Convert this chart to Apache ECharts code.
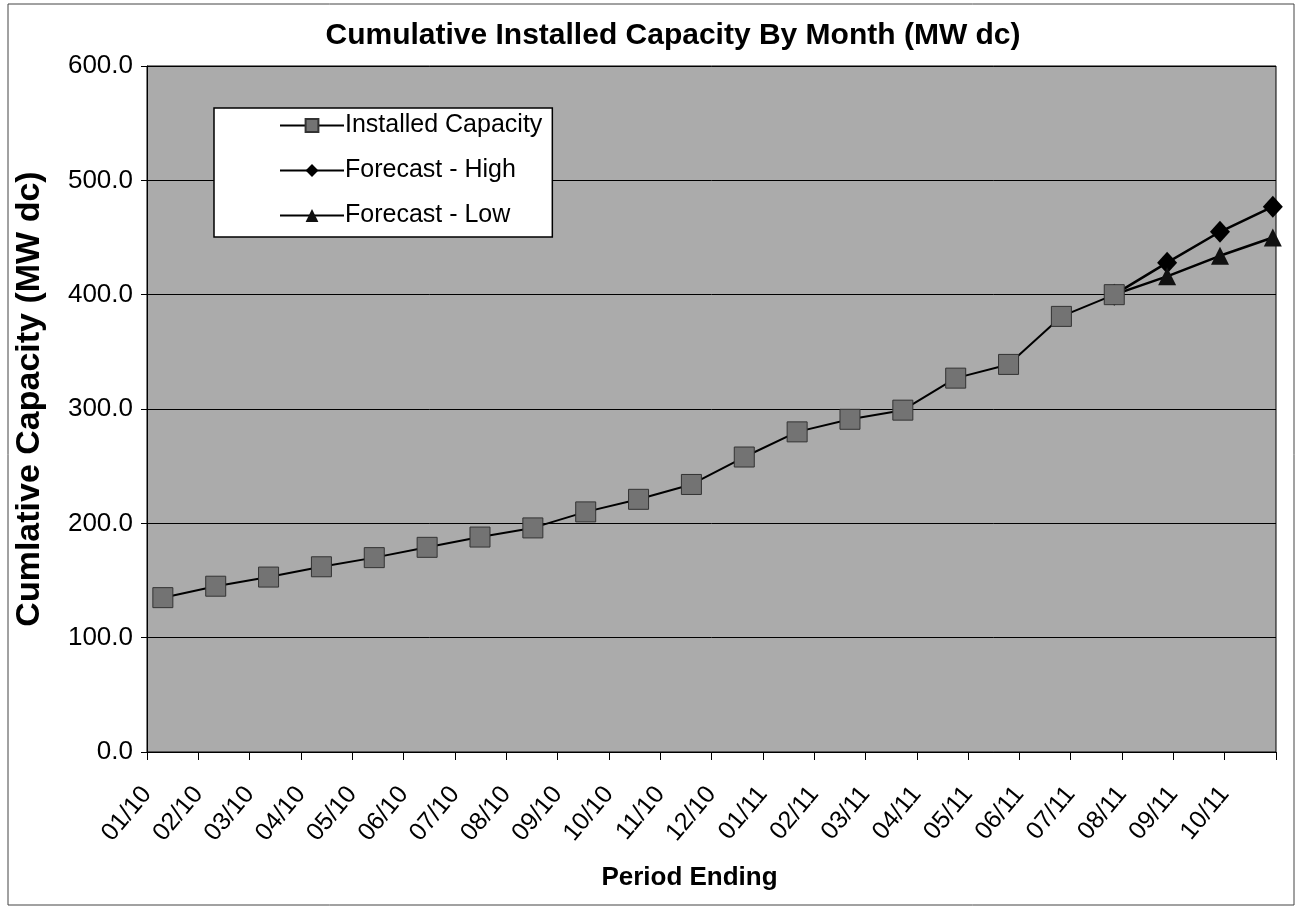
<!DOCTYPE html>
<html><head><meta charset="utf-8">
<script src="https://cdn.jsdelivr.net/npm/echarts@6/dist/echarts.min.js"></script>
<style>html,body{margin:0;padding:0;background:#fff;}#c{width:1298px;height:911px;}</style>
</head><body><div id="c"></div>
<script>
const categories = ['01/10','02/10','03/10','04/10','05/10','06/10','07/10','08/10','09/10','10/10','11/10','12/10','01/11','02/11','03/11','04/11','05/11','06/11','07/11','08/11','09/11','10/11'];
const installed = [135,145,153,162,170,179,188,196,210,221,234,258,280,291,299,327,339,381,400];
const forecastHigh = [null,null,null,null,null,null,null,null,null,null,null,null,null,null,null,null,null,null,400,428,455,477];
const forecastLow  = [null,null,null,null,null,null,null,null,null,null,null,null,null,null,null,null,null,null,400,416,434,450];

const toPairs = arr => arr.map((v, i) => [i, v]).filter(p => p[1] !== null);

const font = '"Liberation Sans", Arial, sans-serif';
const chart = echarts.init(document.getElementById('c'));
chart.setOption({
  animation: false,
  backgroundColor: '#fff',
  title: {
    text: 'Cumulative Installed Capacity By Month (MW dc)',
    left: 668, top: 16, textAlign: 'center',
    textStyle: {fontFamily: font, fontSize: 30, fontWeight: 'bold', color: '#000'}
  },
  graphic: [{type: 'rect', shape: {x: 8, y: 4, width: 1286, height: 901}, style: {fill: 'none', stroke: '#444', lineWidth: 1}, silent: true}],
  legend: {
    orient: 'vertical', left: 214, top: 108,
    backgroundColor: '#fff', borderColor: '#000', borderWidth: 1.5,
    padding: [5, 10, 9, 65], itemGap: 20, itemWidth: 64, itemHeight: 16,
    textStyle: {fontFamily: font, fontSize: 25, color: '#000', padding: [0,0,0,-4]},
    data: ['Installed Capacity', 'Forecast - High', 'Forecast - Low']
  },
  grid: {left: 147, right: 22, top: 66, bottom: 159, show: true, backgroundColor: '#ababab', borderColor: '#000', borderWidth: 1},
  xAxis: [{
    type: 'category', data: categories.concat(['']), boundaryGap: false,
    name: 'Period Ending', nameLocation: 'middle', nameGap: 113,
    nameTextStyle: {fontFamily: font, fontSize: 26, fontWeight: 'bold', color: '#000', padding: [0, 44, 0, 0]},
    axisLine: {lineStyle: {color: '#000', width: 1}},
    axisTick: {show: true, length: 8, lineStyle: {color: '#000'}},
    axisLabel: {rotate: 50, interval: 0, margin: 38, fontFamily: font, fontSize: 25, color: '#000'},
    splitLine: {show: false}
  }, {
    type: 'value', min: -0.3, max: 21.06, show: false, position: 'bottom'
  }],
  yAxis: {
    type: 'value', min: 0, max: 600, interval: 100,
    name: 'Cumlative Capacity (MW dc)', nameLocation: 'middle', nameGap: 100, nameRotate: 90,
    nameTextStyle: {fontFamily: font, fontSize: 34, fontWeight: 'bold', color: '#000', padding: [0, 0, 0, 20]},
    axisLine: {show: true, onZero: false, lineStyle: {color: '#000', width: 1}},
    axisTick: {show: true, length: 6, lineStyle: {color: '#000'}},
    axisLabel: {margin: 14, fontFamily: font, fontSize: 26, color: '#000', formatter: v => v.toFixed(1)},
    splitLine: {show: true, lineStyle: {color: '#000', width: 1}}
  },
  series: [
    {name: 'Installed Capacity', type: 'line', xAxisIndex: 1, data: toPairs(installed), symbol: 'rect', symbolSize: 20,
     lineStyle: {color: '#000', width: 2}, itemStyle: {color: '#737373', borderColor: '#333', borderWidth: 1}, z: 3},
    {name: 'Forecast - High', type: 'line', xAxisIndex: 1, data: toPairs(forecastHigh), symbol: 'diamond', symbolSize: [20, 22],
     lineStyle: {color: '#000', width: 2.5}, itemStyle: {color: '#000'}, z: 2},
    {name: 'Forecast - Low', type: 'line', xAxisIndex: 1, data: toPairs(forecastLow), symbol: 'triangle', symbolSize: 18,
     lineStyle: {color: '#000', width: 2.5}, itemStyle: {color: '#111'}, z: 2}
  ]
});
</script></body></html>
